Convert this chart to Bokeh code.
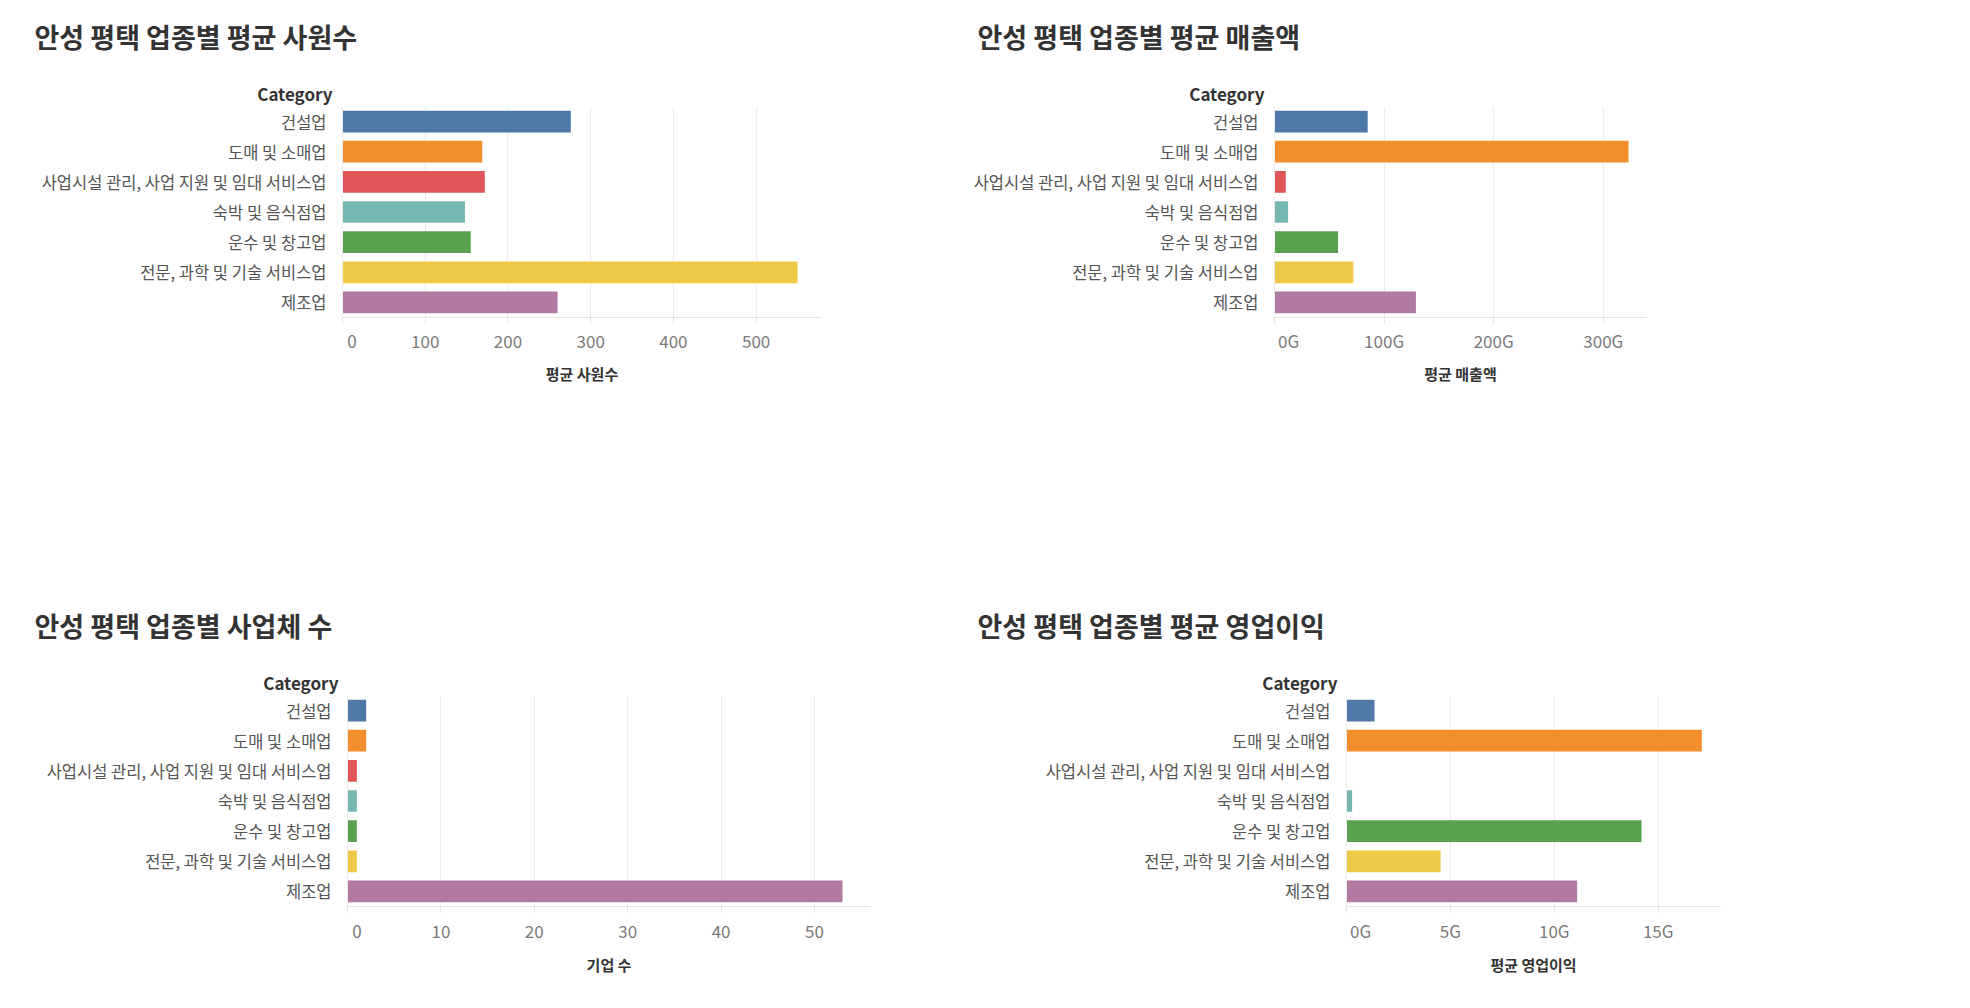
from bokeh.plotting import figure
from bokeh.models import FactorRange, Range1d, FixedTicker, PrintfTickFormatter, Title, ColumnDataSource
from bokeh.layouts import row, column
from bokeh.embed import file_html
from bokeh.resources import INLINE

categories = ["건설업", "도매 및 소매업", "사업시설 관리, 사업 지원 및 임대 서비스업",
              "숙박 및 음식점업", "운수 및 창고업", "전문, 과학 및 기술 서비스업", "제조업"]
colors = ["#4e79a7", "#f28e2b", "#e15759", "#76b7b2", "#59a14f", "#edc948", "#b07aa1"]

avg_employees = [276, 169, 172, 148, 155, 550, 260]
avg_revenue_g = [85, 323, 10.3, 12.4, 58, 72, 129]
company_counts = [2, 2, 1, 1, 1, 1, 53]
avg_op_profit_g = [1.35, 17.1, 0, 0.27, 14.2, 4.53, 11.1]

ticks_employees = [0, 100, 200, 300, 400, 500]
ticks_revenue = [0, 100, 200, 300]
ticks_counts = [0, 10, 20, 30, 40, 50]
ticks_profit = [0, 5, 10, 15]

FONT = "Noto Sans CJK KR"
FIG_SP = "\u2007"


def make_chart(title, values, ticks, xmax, fmt, axis_label, frame_w,
               bl, br, bt, bb, title_x, cat_x, tick_standoff, label_standoff):
    src = ColumnDataSource(dict(cat=categories, val=values, color=colors))
    p = figure(y_range=FactorRange(factors=categories[::-1]), x_range=Range1d(0, xmax),
               frame_width=frame_w, frame_height=211,
               min_border_left=bl, min_border_right=br, min_border_top=bt, min_border_bottom=bb,
               output_backend="svg", toolbar_location=None)
    p.hbar(y="cat", left=0, right="val", height=0.72, fill_color="color",
           line_color=None, source=src)
    p.outline_line_color = None
    p.background_fill_color = "white"
    p.border_fill_color = "white"
    p.ygrid.grid_line_color = None
    p.xgrid.grid_line_color = "#ececec"
    p.xaxis.ticker = FixedTicker(ticks=ticks)
    if fmt:
        p.xaxis.formatter = PrintfTickFormatter(format=fmt)
        p.xaxis.major_label_overrides = {0: FIG_SP * 3 + "0G"}
    else:
        p.xaxis.major_label_overrides = {0: FIG_SP * 2 + "0"}
    p.xaxis.axis_line_color = "#e4e4e4"
    p.xaxis.major_tick_line_color = "#e4e4e4"
    p.xaxis.major_tick_out = 6
    p.xaxis.major_tick_in = 0
    p.xaxis.minor_tick_line_color = None
    p.xaxis.major_label_standoff = tick_standoff
    p.xaxis.major_label_text_font = FONT
    p.xaxis.major_label_text_font_size = "17px"
    p.xaxis.major_label_text_color = "#7a7a7a"
    p.xaxis.axis_label = axis_label
    p.xaxis.axis_label_text_font = FONT
    p.xaxis.axis_label_text_font_size = "15px"
    p.xaxis.axis_label_text_font_style = "bold"
    p.xaxis.axis_label_text_color = "#333333"
    p.xaxis.axis_label_standoff = label_standoff
    p.yaxis.axis_line_color = "#ececec"
    p.yaxis.major_tick_line_color = None
    p.yaxis.minor_tick_line_color = None
    p.yaxis.major_label_standoff = 10
    p.yaxis.major_label_text_font = FONT
    p.yaxis.major_label_text_font_size = "16.5px"
    p.yaxis.major_label_text_color = "#555555"
    # stacked from the frame outward: "Category" header, a spacer, the chart title
    p.add_layout(Title(text="Category", align="right", offset=frame_w - cat_x,
                       text_font=FONT, text_font_size="17px", text_font_style="bold",
                       text_color="#333333", vertical_align="middle", standoff=0), "above")
    p.add_layout(Title(text=" ", align="left", offset=0, text_font=FONT,
                       text_font_size="2px", standoff=18), "above")
    p.add_layout(Title(text=title, align="left", offset=title_x,
                       text_font=FONT, text_font_size="27px", text_font_style="bold",
                       text_color="#333333", vertical_align="middle", standoff=0), "above")
    return p


p1 = make_chart("안성 평택 업종별 평균 사원수", avg_employees, ticks_employees, 579, None, "평균 사원수",
                479, 342, 147, 106, 153, -308, -10, 4, 7)
p2 = make_chart("안성 평택 업종별 평균 매출액", avg_revenue_g, ticks_revenue, 339.4, "%dG", "평균 매출액",
                372, 306, 302, 106, 153, -297, -10, 4, 7)
p3 = make_chart("안성 평택 업종별 사업체 수", company_counts, ticks_counts, 56, None, "기업 수",
                523, 347, 98, 225, 94, -313, -9, 5, 8)
p4 = make_chart("안성 평택 업종별 평균 영업이익", avg_op_profit_g, ticks_profit, 18.0, "%dG", "평균 영업이익",
                374, 378, 228, 225, 94, -369, -9, 5, 8)

layout = column(row(p1, p2, spacing=0), row(p3, p4, spacing=0), spacing=0)
open("out.html", "w").write(file_html(layout, INLINE))
